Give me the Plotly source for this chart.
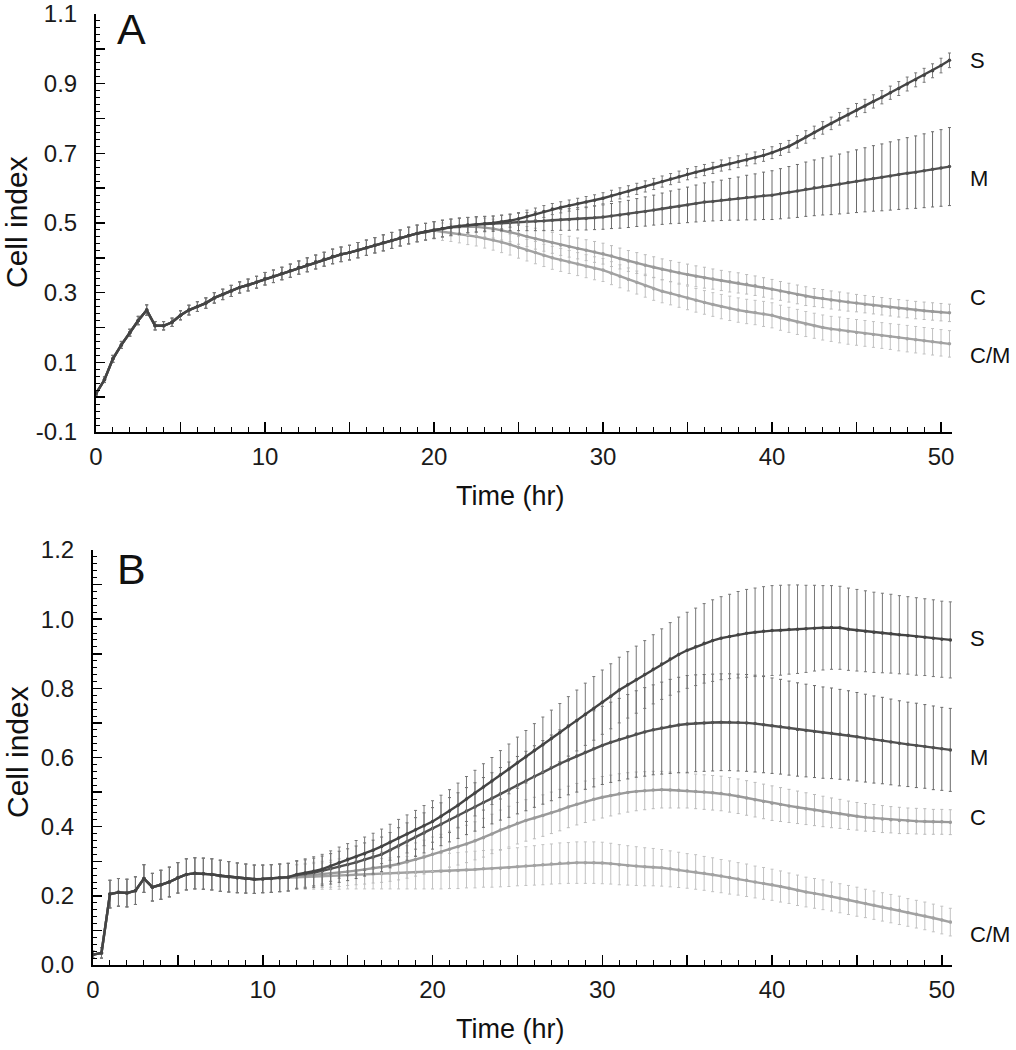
import plotly.graph_objects as go

# ---------------- data ----------------
TIME_HR = [0.0, 0.5, 1.0, 1.5, 2.0, 2.5, 3.0, 3.5, 4.0, 4.5,
           5.0, 5.5, 6.0, 6.5, 7.0, 7.5, 8.0, 8.5, 9.0, 9.5,
           10.0, 10.5, 11.0, 11.5, 12.0, 12.5, 13.0, 13.5, 14.0, 14.5,
           15.0, 15.5, 16.0, 16.5, 17.0, 17.5, 18.0, 18.5, 19.0, 19.5,
           20.0, 20.5, 21.0, 21.5, 22.0, 22.5, 23.0, 23.5, 24.0, 24.5,
           25.0, 25.5, 26.0, 26.5, 27.0, 27.5, 28.0, 28.5, 29.0, 29.5,
           30.0, 30.5, 31.0, 31.5, 32.0, 32.5, 33.0, 33.5, 34.0, 34.5,
           35.0, 35.5, 36.0, 36.5, 37.0, 37.5, 38.0, 38.5, 39.0, 39.5,
           40.0, 40.5, 41.0, 41.5, 42.0, 42.5, 43.0, 43.5, 44.0, 44.5,
           45.0, 45.5, 46.0, 46.5, 47.0, 47.5, 48.0, 48.5, 49.0, 49.5,
           50.0, 50.5]

SERIES = ["S", "M", "C", "C/M"]

# Panel A: shared early phase (0 - 19.5 h), then one tail per series (20 - 50.5 h)
A_EARLY = [0.01, 0.05, 0.11, 0.15, 0.185, 0.22, 0.25, 0.205, 0.205, 0.215,
           0.235, 0.25, 0.26, 0.27, 0.285, 0.295, 0.305, 0.315, 0.322, 0.33,
           0.34, 0.347, 0.355, 0.363, 0.372, 0.38, 0.388, 0.396, 0.404, 0.41,
           0.415, 0.422, 0.429, 0.436, 0.443, 0.45, 0.457, 0.464, 0.47, 0.475]
A_EARLY_ERR = [0.005, 0.008, 0.01, 0.01, 0.01, 0.012, 0.015, 0.012, 0.012, 0.012,
               0.013, 0.014, 0.014, 0.015, 0.015, 0.015, 0.016, 0.016, 0.017, 0.017,
               0.018, 0.018, 0.018, 0.019, 0.019, 0.02, 0.02, 0.02, 0.021, 0.021,
               0.021, 0.022, 0.022, 0.022, 0.023, 0.023, 0.023, 0.024, 0.024, 0.024]

A_S_TAIL = [0.48, 0.484, 0.488, 0.491, 0.494, 0.496, 0.498, 0.5, 0.503, 0.507,
            0.512, 0.519, 0.526, 0.533, 0.54, 0.545, 0.55, 0.555, 0.56, 0.565,
            0.571, 0.578, 0.585, 0.591, 0.598, 0.605, 0.612, 0.619, 0.626, 0.633,
            0.64, 0.646, 0.652, 0.658, 0.665, 0.67, 0.676, 0.681, 0.687, 0.694,
            0.702, 0.711, 0.72, 0.733, 0.747, 0.76, 0.773, 0.786, 0.799, 0.811,
            0.824, 0.836, 0.849, 0.861, 0.874, 0.886, 0.899, 0.911, 0.924, 0.937,
            0.952, 0.967]
A_M_TAIL = [0.48, 0.484, 0.488, 0.491, 0.494, 0.496, 0.497, 0.498, 0.5, 0.501,
            0.503, 0.504, 0.505, 0.506, 0.508, 0.509, 0.51, 0.512, 0.513, 0.515,
            0.517, 0.52, 0.523, 0.526, 0.53, 0.533, 0.537, 0.541, 0.545, 0.548,
            0.552, 0.556, 0.56, 0.562, 0.565, 0.568, 0.57, 0.573, 0.575, 0.578,
            0.58, 0.584, 0.588, 0.592, 0.597, 0.601, 0.605, 0.608, 0.612, 0.616,
            0.62, 0.624, 0.628, 0.631, 0.635, 0.639, 0.643, 0.646, 0.65, 0.654,
            0.658, 0.662]
A_C_TAIL = [0.48, 0.484, 0.487, 0.489, 0.49, 0.489, 0.487, 0.484, 0.479, 0.474,
            0.468, 0.461, 0.455, 0.449, 0.443, 0.437, 0.432, 0.427, 0.422, 0.417,
            0.412, 0.405, 0.398, 0.391, 0.385, 0.379, 0.373, 0.367, 0.362, 0.357,
            0.352, 0.347, 0.343, 0.339, 0.335, 0.331, 0.328, 0.324, 0.32, 0.315,
            0.31, 0.305, 0.3, 0.295, 0.29, 0.286, 0.283, 0.279, 0.276, 0.273,
            0.27, 0.267, 0.264, 0.261, 0.258, 0.255, 0.253, 0.25, 0.248, 0.246,
            0.244, 0.242]
A_CM_TAIL = [0.478, 0.475, 0.472, 0.469, 0.465, 0.461, 0.456, 0.451, 0.445, 0.438,
             0.43, 0.422, 0.415, 0.407, 0.4, 0.394, 0.388, 0.382, 0.376, 0.37,
             0.365, 0.356, 0.347, 0.338, 0.329, 0.32, 0.311, 0.304, 0.298, 0.291,
             0.285, 0.278, 0.272, 0.266, 0.26, 0.255, 0.25, 0.246, 0.243, 0.239,
             0.235, 0.228, 0.222, 0.216, 0.21, 0.205, 0.2, 0.196, 0.193, 0.189,
             0.186, 0.183, 0.18, 0.177, 0.174, 0.171, 0.168, 0.165, 0.162, 0.159,
             0.156, 0.153]

A_S_TAIL_ERR = [0.024, 0.024, 0.023, 0.023, 0.022, 0.022, 0.021, 0.02, 0.02, 0.019,
                0.018, 0.018, 0.017, 0.017, 0.016, 0.016, 0.016, 0.016, 0.016, 0.016,
                0.016, 0.016, 0.016, 0.016, 0.016, 0.016, 0.016, 0.016, 0.016, 0.016,
                0.016, 0.016, 0.016, 0.016, 0.016, 0.017, 0.017, 0.017, 0.017, 0.017,
                0.017, 0.017, 0.017, 0.018, 0.018, 0.018, 0.018, 0.018, 0.018, 0.018,
                0.019, 0.019, 0.019, 0.019, 0.019, 0.02, 0.02, 0.02, 0.02, 0.02,
                0.021, 0.021]
A_M_TAIL_ERR = [0.024, 0.024, 0.023, 0.023, 0.022, 0.022, 0.022, 0.022, 0.022, 0.023,
                0.025, 0.026, 0.027, 0.028, 0.03, 0.03, 0.031, 0.032, 0.033, 0.034,
                0.035, 0.036, 0.038, 0.039, 0.04, 0.042, 0.043, 0.045, 0.047, 0.049,
                0.051, 0.053, 0.055, 0.056, 0.058, 0.06, 0.062, 0.064, 0.066, 0.068,
                0.07, 0.072, 0.074, 0.076, 0.078, 0.08, 0.082, 0.084, 0.086, 0.088,
                0.09, 0.092, 0.094, 0.096, 0.098, 0.1, 0.102, 0.104, 0.106, 0.108,
                0.11, 0.112]
A_C_TAIL_ERR = [0.024, 0.024, 0.025, 0.025, 0.026, 0.026, 0.027, 0.027, 0.028, 0.028,
                0.029, 0.029, 0.03, 0.03, 0.03, 0.03, 0.03, 0.03, 0.03, 0.03,
                0.03, 0.03, 0.03, 0.03, 0.03, 0.03, 0.03, 0.03, 0.03, 0.03,
                0.03, 0.03, 0.03, 0.029, 0.029, 0.029, 0.029, 0.028, 0.028, 0.028,
                0.028, 0.027, 0.027, 0.027, 0.027, 0.026, 0.026, 0.026, 0.026, 0.026,
                0.025, 0.025, 0.025, 0.025, 0.025, 0.025, 0.025, 0.025, 0.025, 0.025,
                0.025, 0.025]
A_CM_TAIL_ERR = [0.024, 0.025, 0.025, 0.026, 0.027, 0.027, 0.028, 0.029, 0.03, 0.03,
                 0.031, 0.031, 0.032, 0.032, 0.033, 0.033, 0.033, 0.033, 0.033, 0.033,
                 0.033, 0.033, 0.033, 0.033, 0.033, 0.033, 0.033, 0.033, 0.033, 0.033,
                 0.034, 0.034, 0.034, 0.034, 0.035, 0.035, 0.035, 0.035, 0.035, 0.036,
                 0.036, 0.036, 0.036, 0.036, 0.036, 0.036, 0.036, 0.036, 0.037, 0.037,
                 0.037, 0.037, 0.037, 0.037, 0.037, 0.038, 0.038, 0.038, 0.038, 0.038,
                 0.038, 0.038]

# Panel B: shared early phase (0 - 11.5 h), then one tail per series (12 - 50.5 h)
B_EARLY = [0.03, 0.035, 0.205, 0.21, 0.208, 0.215, 0.25, 0.225, 0.232, 0.24,
           0.252, 0.262, 0.265, 0.264, 0.262, 0.258, 0.255, 0.252, 0.25, 0.248,
           0.249, 0.25, 0.252, 0.254]
B_EARLY_ERR = [0.01, 0.015, 0.04, 0.04, 0.04, 0.04, 0.04, 0.04, 0.042, 0.043,
               0.044, 0.045, 0.045, 0.045, 0.045, 0.045, 0.044, 0.043, 0.042, 0.041,
               0.04, 0.04, 0.04, 0.04]

B_S_TAIL = [0.262, 0.266, 0.271, 0.277, 0.286, 0.296, 0.305, 0.313, 0.322, 0.332,
            0.343, 0.355, 0.367, 0.379, 0.391, 0.403, 0.415, 0.43, 0.445, 0.462,
            0.48, 0.497, 0.515, 0.532, 0.55, 0.567, 0.585, 0.602, 0.62, 0.637,
            0.655, 0.672, 0.69, 0.707, 0.725, 0.742, 0.76, 0.777, 0.795, 0.81,
            0.825, 0.84, 0.855, 0.87, 0.885, 0.898, 0.91, 0.92, 0.93, 0.938,
            0.945, 0.95, 0.955, 0.959, 0.962, 0.965, 0.967, 0.968, 0.97, 0.971,
            0.972, 0.974, 0.975, 0.976, 0.975, 0.971, 0.968, 0.965, 0.962, 0.96,
            0.958, 0.955, 0.953, 0.95, 0.948, 0.945, 0.942, 0.94]
B_M_TAIL = [0.26, 0.263, 0.267, 0.272, 0.278, 0.284, 0.29, 0.297, 0.305, 0.312,
            0.32, 0.332, 0.345, 0.357, 0.37, 0.382, 0.395, 0.407, 0.42, 0.432,
            0.445, 0.457, 0.47, 0.482, 0.495, 0.507, 0.52, 0.532, 0.545, 0.557,
            0.57, 0.582, 0.593, 0.604, 0.615, 0.625, 0.635, 0.644, 0.652, 0.66,
            0.668, 0.674, 0.68, 0.685, 0.69, 0.694, 0.697, 0.699, 0.7, 0.701,
            0.702, 0.702, 0.701, 0.7, 0.698, 0.695, 0.692, 0.689, 0.685, 0.681,
            0.678, 0.675, 0.672, 0.67, 0.667, 0.664, 0.66, 0.656, 0.652, 0.649,
            0.645, 0.641, 0.638, 0.635, 0.632, 0.628, 0.625, 0.622]
B_C_TAIL = [0.256, 0.258, 0.26, 0.262, 0.264, 0.267, 0.27, 0.273, 0.276, 0.28,
            0.283, 0.287, 0.292, 0.298, 0.305, 0.312, 0.32, 0.327, 0.335, 0.342,
            0.35, 0.359, 0.368, 0.379, 0.39, 0.4, 0.41, 0.418, 0.425, 0.432,
            0.44, 0.448, 0.457, 0.465, 0.472, 0.479, 0.485, 0.49, 0.495, 0.499,
            0.502, 0.504, 0.506, 0.507, 0.506, 0.505, 0.504, 0.502, 0.5, 0.498,
            0.496, 0.492, 0.488, 0.483, 0.478, 0.473, 0.468, 0.464, 0.46, 0.456,
            0.452, 0.448, 0.444, 0.44, 0.437, 0.433, 0.43, 0.427, 0.425, 0.422,
            0.42, 0.418, 0.417, 0.416, 0.415, 0.414, 0.414, 0.413]
B_CM_TAIL = [0.254, 0.255, 0.256, 0.257, 0.258, 0.259, 0.26, 0.261, 0.262, 0.263,
             0.264, 0.265, 0.266, 0.267, 0.268, 0.269, 0.27, 0.271, 0.272, 0.273,
             0.275, 0.276, 0.278, 0.279, 0.28, 0.282, 0.284, 0.286, 0.288, 0.29,
             0.292, 0.294, 0.295, 0.296, 0.296, 0.296, 0.295, 0.293, 0.29, 0.288,
             0.286, 0.284, 0.283, 0.281, 0.278, 0.275, 0.272, 0.269, 0.265, 0.261,
             0.257, 0.253, 0.249, 0.245, 0.24, 0.236, 0.232, 0.227, 0.222, 0.216,
             0.211, 0.207, 0.203, 0.198, 0.193, 0.188, 0.183, 0.178, 0.173, 0.168,
             0.163, 0.158, 0.152, 0.147, 0.142, 0.136, 0.13, 0.124]

B_S_TAIL_ERR = [0.04, 0.041, 0.042, 0.043, 0.044, 0.045, 0.046, 0.047, 0.048, 0.049,
                0.05, 0.052, 0.054, 0.055, 0.056, 0.058, 0.06, 0.061, 0.062, 0.064,
                0.065, 0.066, 0.067, 0.068, 0.07, 0.072, 0.074, 0.076, 0.078, 0.08,
                0.082, 0.084, 0.086, 0.088, 0.09, 0.092, 0.093, 0.094, 0.095, 0.096,
                0.097, 0.098, 0.1, 0.102, 0.105, 0.108, 0.11, 0.112, 0.115, 0.118,
                0.12, 0.122, 0.125, 0.127, 0.128, 0.129, 0.13, 0.13, 0.129, 0.128,
                0.126, 0.124, 0.122, 0.121, 0.12, 0.119, 0.118, 0.117, 0.116, 0.115,
                0.114, 0.113, 0.112, 0.112, 0.111, 0.111, 0.11, 0.11]
B_M_TAIL_ERR = [0.04, 0.041, 0.042, 0.043, 0.044, 0.045, 0.046, 0.047, 0.048, 0.049,
                0.05, 0.051, 0.052, 0.054, 0.056, 0.058, 0.06, 0.062, 0.064, 0.066,
                0.068, 0.07, 0.072, 0.074, 0.076, 0.08, 0.083, 0.086, 0.089, 0.092,
                0.095, 0.098, 0.101, 0.104, 0.107, 0.11, 0.113, 0.116, 0.119, 0.122,
                0.125, 0.128, 0.13, 0.133, 0.136, 0.138, 0.14, 0.14, 0.14, 0.14,
                0.14, 0.14, 0.14, 0.14, 0.14, 0.139, 0.138, 0.137, 0.136, 0.135,
                0.134, 0.133, 0.132, 0.131, 0.13, 0.129, 0.128, 0.127, 0.126, 0.125,
                0.124, 0.123, 0.122, 0.122, 0.121, 0.121, 0.12, 0.12]
B_C_TAIL_ERR = [0.035, 0.036, 0.037, 0.038, 0.039, 0.04, 0.04, 0.041, 0.042, 0.043,
                0.044, 0.045, 0.046, 0.047, 0.048, 0.049, 0.05, 0.051, 0.052, 0.053,
                0.054, 0.055, 0.056, 0.057, 0.058, 0.059, 0.06, 0.06, 0.06, 0.06,
                0.06, 0.06, 0.06, 0.06, 0.06, 0.06, 0.06, 0.059, 0.058, 0.057,
                0.056, 0.055, 0.054, 0.053, 0.052, 0.051, 0.05, 0.05, 0.05, 0.05,
                0.05, 0.05, 0.05, 0.05, 0.05, 0.05, 0.05, 0.049, 0.048, 0.047,
                0.046, 0.045, 0.044, 0.043, 0.042, 0.041, 0.04, 0.04, 0.039, 0.039,
                0.038, 0.038, 0.037, 0.037, 0.037, 0.036, 0.036, 0.036]
B_CM_TAIL_ERR = [0.035, 0.036, 0.037, 0.038, 0.039, 0.04, 0.04, 0.041, 0.042, 0.043,
                 0.044, 0.045, 0.046, 0.047, 0.048, 0.049, 0.05, 0.051, 0.051, 0.052,
                 0.052, 0.053, 0.053, 0.054, 0.054, 0.055, 0.055, 0.056, 0.057, 0.058,
                 0.058, 0.059, 0.059, 0.06, 0.06, 0.06, 0.06, 0.059, 0.058, 0.057,
                 0.056, 0.055, 0.054, 0.053, 0.052, 0.051, 0.05, 0.05, 0.049, 0.049,
                 0.048, 0.048, 0.047, 0.047, 0.046, 0.046, 0.045, 0.045, 0.044, 0.044,
                 0.043, 0.043, 0.043, 0.042, 0.042, 0.042, 0.042, 0.041, 0.041, 0.041,
                 0.041, 0.041, 0.04, 0.04, 0.04, 0.04, 0.04, 0.04]

A_YTICKS = [-0.1, 0.0, 0.1, 0.2, 0.3, 0.4, 0.5, 0.6, 0.7, 0.8, 0.9, 1.0, 1.1]
A_YLABELS = ["-0.1", "", "0.1", "", "0.3", "", "0.5", "", "0.7", "", "0.9", "", "1.1"]
B_YTICKS = [0.0, 0.1, 0.2, 0.3, 0.4, 0.5, 0.6, 0.7, 0.8, 0.9, 1.0, 1.1, 1.2]
B_YLABELS = ["0.0", "", "0.2", "", "0.4", "", "0.6", "", "0.8", "", "1.0", "", "1.2"]
XTICKS = [0, 5, 10, 15, 20, 25, 30, 35, 40, 45, 50]
XLABELS = ["0", "", "10", "", "20", "", "30", "", "40", "", "50"]

# ---------------- build series ----------------
A_MEAN = {"S": A_EARLY + A_S_TAIL, "M": A_EARLY + A_M_TAIL,
          "C": A_EARLY + A_C_TAIL, "C/M": A_EARLY + A_CM_TAIL}
A_ERR = {"S": A_EARLY_ERR + A_S_TAIL_ERR, "M": A_EARLY_ERR + A_M_TAIL_ERR,
         "C": A_EARLY_ERR + A_C_TAIL_ERR, "C/M": A_EARLY_ERR + A_CM_TAIL_ERR}
B_MEAN = {"S": B_EARLY + B_S_TAIL, "M": B_EARLY + B_M_TAIL,
          "C": B_EARLY + B_C_TAIL, "C/M": B_EARLY + B_CM_TAIL}
B_ERR = {"S": B_EARLY_ERR + B_S_TAIL_ERR, "M": B_EARLY_ERR + B_M_TAIL_ERR,
         "C": B_EARLY_ERR + B_C_TAIL_ERR, "C/M": B_EARLY_ERR + B_CM_TAIL_ERR}

for d in (A_MEAN, A_ERR, B_MEAN, B_ERR):
    for k, v in d.items():
        assert len(v) == len(TIME_HR), (k, len(v))

LINE_COL = {"S": "#444444", "M": "#505050", "C": "#9a9a9a", "C/M": "#a2a2a2"}
BAR_COL = {"S": "#777777", "M": "#6a6a6a", "C": "#bbbbbb", "C/M": "#c2c2c2"}
DRAW_ORDER = ["C/M", "C", "M", "S"]

FONT = "Liberation Sans, Arial, Helvetica, sans-serif"

fig = go.Figure()
for axes, mean, err in (("x", A_MEAN, A_ERR), ("x2", B_MEAN, B_ERR)):
    ya = "y" if axes == "x" else "y2"
    for name in DRAW_ORDER:
        fig.add_trace(go.Scatter(
            x=TIME_HR, y=mean[name], xaxis=axes, yaxis=ya, name=name,
            mode="lines+markers",
            line=dict(color=LINE_COL[name], width=2.4),
            marker=dict(color=LINE_COL[name], size=3.5),
            error_y=dict(type="data", array=err[name], visible=True,
                         color=BAR_COL[name], thickness=1, width=1.5),
            showlegend=False, hoverinfo="skip"))

W, H = 1016, 1050


def xaxis(domain, rng):
    return dict(domain=domain, range=rng, showline=True, linecolor="black",
                linewidth=2, ticks="inside", ticklen=10, tickwidth=1.5,
                tickcolor="black", tickmode="array", tickvals=XTICKS,
                ticktext=XLABELS, showgrid=False, zeroline=False,
                automargin=False,
                tickfont=dict(family=FONT, size=24, color="#1a1a1a"),
                ticklabelstandoff=2,
                minor=dict(dtick=1, tick0=0, ticks="inside", ticklen=5,
                           tickwidth=1, tickcolor="black", showgrid=False))


def yaxis(domain, rng, vals, labels):
    return dict(domain=domain, range=rng, showline=True, linecolor="black",
                linewidth=2, ticks="inside", ticklen=9, tickwidth=1.5,
                tickcolor="black", tickmode="array", tickvals=vals,
                ticktext=labels, showgrid=False, zeroline=False,
                automargin=False,
                tickfont=dict(family=FONT, size=24, color="#1a1a1a"),
                ticklabelstandoff=12,
                minor=dict(dtick=0.02, tick0=0, ticks="inside", ticklen=4,
                           tickwidth=1, tickcolor="black", showgrid=False))


layout = dict(
    template="none",
    width=W, height=H, autosize=False,
    margin=dict(l=0, r=0, t=0, b=0, pad=0),
    paper_bgcolor="white", plot_bgcolor="white",
    xaxis=dict(anchor="y", **xaxis([96 / W, 952 / W], [0, 50.65])),
    yaxis=dict(anchor="x", **yaxis([1 - 432 / H, 1 - 14 / H], [-0.1, 1.1],
                                   A_YTICKS, A_YLABELS)),
    xaxis2=dict(anchor="y2", **xaxis([93 / W, 952 / W], [0, 50.6])),
    yaxis2=dict(anchor="x2", **yaxis([1 - 965 / H, 1 - 550 / H], [0, 1.2],
                                     B_YTICKS, B_YLABELS)),
    showlegend=False,
)

ann = []


def txt(x, y, s, size, xanchor="center", angle=0):
    ann.append(dict(x=x / W, y=1 - y / H, xref="paper", yref="paper", text=s,
                    showarrow=False, xanchor=xanchor, yanchor="middle",
                    textangle=angle,
                    font=dict(family=FONT, size=size, color="#111111")))


txt(131, 29, "A", 43)
txt(131, 569, "B", 43)
txt(510, 496, "Time (hr)", 27)
txt(510, 1029, "Time (hr)", 27)
txt(17, 222, "Cell index", 30, angle=-90)
txt(17, 752, "Cell index", 30, angle=-90)

A_LABEL_Y = {"S": 61, "M": 178, "C": 297, "C/M": 355}
B_LABEL_Y = {"S": 638, "M": 757, "C": 817, "C/M": 935}
for name in SERIES:
    txt(968, A_LABEL_Y[name], name, 22, xanchor="left")
    txt(968, B_LABEL_Y[name], name, 22, xanchor="left")

layout["annotations"] = ann
fig.update_layout(**layout)
fig.write_html(
    "out.html",
    config={"displayModeBar": False, "staticPlot": True},
    post_script="document.body.style.margin='0px';"
                "document.body.style.padding='0px';"
                "document.documentElement.style.overflow='hidden';")
